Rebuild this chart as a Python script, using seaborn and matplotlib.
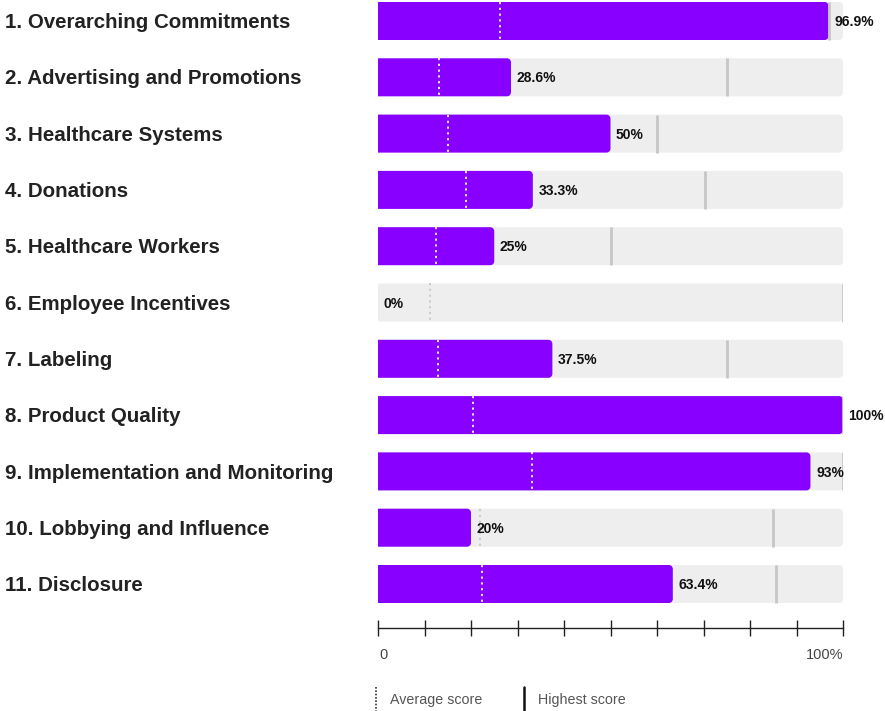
import matplotlib
matplotlib.use("Agg")
import matplotlib.pyplot as plt
import matplotlib.transforms as mtransforms
from matplotlib.lines import Line2D
from matplotlib.path import Path
from matplotlib.patches import PathPatch
import seaborn as sns
import pandas as pd

categories = [
    "1. Overarching Commitments",
    "2. Advertising and Promotions",
    "3. Healthcare Systems",
    "4. Donations",
    "5. Healthcare Workers",
    "6. Employee Incentives",
    "7. Labeling",
    "8. Product Quality",
    "9. Implementation and Monitoring",
    "10. Lobbying and Influence",
    "11. Disclosure",
]
scores = [96.9, 28.6, 50, 33.3, 25, 0, 37.5, 100, 93, 20, 63.4]
score_labels = ["96.9%", "28.6%", "50%", "33.3%", "25%", "0%", "37.5%", "100%", "93%", "20%", "63.4%"]
average_scores = [26.3, 13.1, 15.1, 19.0, 12.5, 11.2, 12.8, 20.4, 33.2, 21.9, 22.3]
highest_scores = [96.9, 75, 60, 70.3, 50, 100, 75, 100, 100, 85, 85.6]
full_scale = [100] * len(categories)

df = pd.DataFrame({
    "category": categories,
    "score": scores,
    "full": full_scale,
    "avg": average_scores,
    "high": highest_scores,
})

sns.set_theme(style="white")
plt.rcParams["font.family"] = ["Liberation Sans", "DejaVu Sans"]

W, H = 885, 711
fig = plt.figure(figsize=(W / 100, H / 100), dpi=100)
ax_left = 378 / W
ax_w = 465 / W
ax_bottom = (H - 628) / H
ax_h = 628 / H
ax = fig.add_axes([ax_left, ax_bottom, ax_w, ax_h])

PURPLE = "#8800ff"
BG = "#eeeeee"
bar_h = 0.675

sns.barplot(data=df, x="full", y="category", order=categories, color=BG,
            width=bar_h, ax=ax, saturation=1, edgecolor="none", linewidth=0)
sns.barplot(data=df, x="score", y="category", order=categories, color=PURPLE,
            width=bar_h, ax=ax, saturation=1, edgecolor="none", linewidth=0)

row_step = 56.3
ax.set_xlim(0, 100)
ax.set_ylim((628 - 21) / row_step, -21 / row_step)

# round the right-hand corners of every bar seaborn drew (radius ~4 px)
rx = 4 * 100 / 465
ry = 4 / row_step
k = 0.5523
for p in list(ax.patches):
    x0, y0 = p.get_x(), p.get_y()
    w, h = p.get_width(), p.get_height()
    fc = p.get_facecolor()
    z = p.get_zorder()
    p.set_visible(False)
    if w <= 0:
        continue
    r_x = min(rx, w)
    ya, yb = min(y0, y0 + h), max(y0, y0 + h)
    x1 = x0 + w
    verts = [
        (x0, ya), (x1 - r_x, ya),
        (x1 - r_x + k * r_x, ya), (x1, ya + ry - k * ry), (x1, ya + ry),
        (x1, yb - ry),
        (x1, yb - ry + k * ry), (x1 - r_x + k * r_x, yb), (x1 - r_x, yb),
        (x0, yb), (x0, ya),
    ]
    codes = [Path.MOVETO, Path.LINETO,
             Path.CURVE4, Path.CURVE4, Path.CURVE4,
             Path.LINETO,
             Path.CURVE4, Path.CURVE4, Path.CURVE4,
             Path.LINETO, Path.CLOSEPOLY]
    ax.add_patch(PathPatch(Path(verts, codes), facecolor=fc, edgecolor="none", zorder=z))

for i, row in df.iterrows():
    y0, y1 = i - bar_h / 2, i + bar_h / 2
    ax.vlines(row["high"], y0, y1, color="#c6c6c6", linewidth=2.0, zorder=4)
    c = "white" if row["avg"] < row["score"] else "#c8c8c8"
    ax.vlines(row["avg"], y0, y1, color=c, linewidth=1.3, linestyles=(0, (1.2, 2.0)), zorder=5)
    ax.annotate(score_labels[i], xy=(row["score"], i + 0.02), xytext=(4, 0), textcoords="offset points",
                ha="left", va="center", fontsize=10, fontweight="bold", color="#111111", zorder=6,
                annotation_clip=False)

trans = mtransforms.blended_transform_factory(fig.transFigure, ax.transData)
for i, cat in enumerate(categories):
    ax.text(5 / W, i + 0.03, cat, transform=trans, ha="left", va="center",
            fontsize=14.8, fontweight="bold", color="#222222", clip_on=False)

ax.set_ylabel("")
ax.set_xlabel("")
ax.set_yticks([])
ax.set_xticks(range(0, 101, 10))
ax.set_xticklabels([""] * 11)
ax.tick_params(axis="x", direction="inout", length=11, width=1, color="#222222", bottom=True)
for s in ["top", "right", "left"]:
    ax.spines[s].set_visible(False)
ax.spines["bottom"].set_visible(True)
ax.spines["bottom"].set_color("#222222")
ax.spines["bottom"].set_linewidth(1)

ax.text(0.2, -0.043, "0", transform=ax.get_xaxis_transform(), ha="left", va="center",
        fontsize=10.5, color="#444444", clip_on=False)
ax.text(100, -0.043, "100%", transform=ax.get_xaxis_transform(), ha="right", va="center",
        fontsize=10.5, color="#444444", clip_on=False)

ly0, ly1 = 1 - 687 / H, 1 - 711 / H
fig.add_artist(Line2D([375.5 / W, 375.5 / W], [ly0, ly1], transform=fig.transFigure,
                      color="#333333", linewidth=1.2, linestyle=(0, (1, 1))))
fig.text(390 / W, 1 - 700 / H, "Average score", ha="left", va="center", fontsize=10.3, color="#555555")
fig.add_artist(Line2D([523.5 / W, 523.5 / W], [ly0, ly1], transform=fig.transFigure,
                      color="#111111", linewidth=1.8))
fig.text(538 / W, 1 - 700 / H, "Highest score", ha="left", va="center", fontsize=10.3, color="#555555")

fig.savefig("out.png", dpi=100)
